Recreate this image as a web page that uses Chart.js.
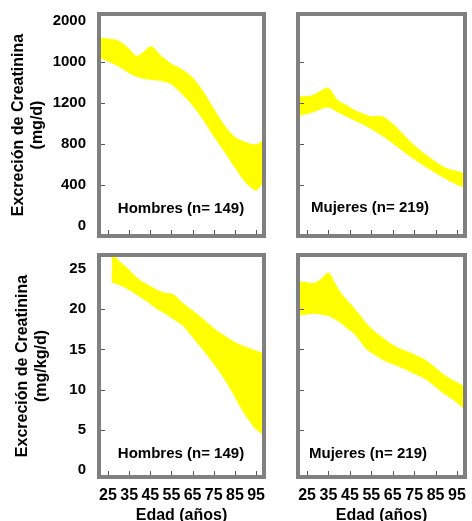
<!DOCTYPE html>
<html><head><meta charset="utf-8">
<script src="https://cdn.jsdelivr.net/npm/chart.js@4.4.1/dist/chart.umd.min.js"></script>
<style>
html,body{margin:0;padding:0;background:#fff;width:472px;height:521px;overflow:hidden;}
#wrap{position:relative;width:472px;height:521px;overflow:hidden;background:#fff;}
canvas{position:absolute;display:block;}
.lbl{position:absolute;font-family:'Liberation Sans',Arial,sans-serif;font-weight:bold;font-size:15px;white-space:nowrap;transform:translate(-50%,-50%);color:#000;line-height:1;}
</style></head><body>
<div id="wrap">
<canvas id="c1" width="270" height="245" style="left:0;top:0"></canvas>
<canvas id="c2" width="202" height="245" style="left:270px;top:0"></canvas>
<canvas id="c3" width="270" height="290" style="left:0;top:245px"></canvas>
<canvas id="c4" width="202" height="290" style="left:270px;top:245px"></canvas>
<div class="lbl" style="left:181px;top:207px">Hombres (n= 149)</div>
<div class="lbl" style="left:370px;top:206px">Mujeres (n= 219)</div>
<div class="lbl" style="left:181px;top:452px">Hombres (n= 149)</div>
<div class="lbl" style="left:368px;top:452px">Mujeres (n= 219)</div>
</div>
<script>
// ---- Data ----
const ageTicks = [25, 35, 45, 55, 65, 75, 85, 95];
const yTicksMgD = [0, 400, 800, 1200, 1600, 2000];
const yTickLabelsMgD = ['0', '400', '800', '1200', '1000', '2000'];
const yTicksMgKgD = [0, 5, 10, 15, 20, 25];
const yTickLabelsMgKgD = ['0', '5', '10', '15', '20', '25'];

const hombresMgDAge   = [21.7, 25, 30, 35, 38.5, 42, 45.5, 50, 55, 60, 65, 70, 75, 80, 85, 90, 95, 98];
const hombresMgDUpper = [1832, 1825, 1805, 1725, 1655, 1700, 1750, 1660, 1580, 1525, 1445, 1310, 1140, 980, 865, 815, 791, 830];
const hombresMgDLower = [1640, 1610, 1560, 1495, 1460, 1440, 1430, 1420, 1385, 1290, 1180, 1040, 880, 730, 575, 430, 350, 420];

const mujeresMgDAge   = [21.7, 25, 28, 31, 35, 39, 43, 47, 51, 55, 60, 65, 70, 75, 80, 85, 90, 95, 98];
const mujeresMgDUpper = [1262, 1262, 1275, 1311, 1344, 1230, 1180, 1130, 1095, 1067, 1067, 995, 890, 785, 700, 625, 560, 532, 514];
const mujeresMgDLower = [1083, 1095, 1116, 1140, 1160, 1116, 1075, 1035, 995, 950, 885, 810, 730, 655, 585, 520, 460, 405, 384];

const hombresMgKgDAge   = [26.7, 29, 34, 40, 44, 48, 52, 56, 60, 64, 68, 72, 76, 80, 84, 88, 92, 95, 98];
const hombresMgKgDUpper = [27.2, 26.3, 25.1, 23.6, 23.0, 22.4, 22.0, 21.8, 20.8, 20.0, 19.2, 18.3, 17.4, 16.7, 16.0, 15.5, 15.1, 14.8, 14.5];
const hombresMgKgDLower = [23.4, 23.2, 22.6, 21.6, 20.9, 20.1, 19.5, 18.8, 18.1, 16.9, 15.6, 14.3, 12.9, 11.4, 9.6, 7.7, 6.1, 5.1, 4.5];

const mujeresMgKgDAge   = [21.7, 25, 28, 31, 35, 38, 41, 44, 47, 50, 53, 57, 60, 64, 68, 72, 76, 80, 84, 88, 92, 95, 98];
const mujeresMgKgDUpper = [23.4, 23.3, 23.2, 23.6, 24.5, 23.2, 21.9, 21.0, 20.1, 19.1, 18.1, 17.1, 16.5, 15.7, 15.1, 14.7, 14.2, 13.7, 12.9, 12.0, 11.3, 10.9, 10.4];
const mujeresMgKgDLower = [19.3, 19.4, 19.5, 19.4, 19.2, 18.8, 18.3, 17.6, 17.0, 16.0, 15.0, 14.3, 13.8, 13.3, 12.9, 12.4, 11.9, 11.4, 10.6, 9.7, 9.0, 8.4, 7.7];

// ---- Rendering ----
const FONT = "'Liberation Sans', Arial, Helvetica, sans-serif";
const YELLOW = '#ffff00';
Chart.defaults.font.family = FONT;

const framePlugin = {
  id: 'frame',
  afterDraw(chart) {
    const {ctx, chartArea: a, scales} = chart;
    ctx.save();
    ctx.strokeStyle = '#555';
    ctx.lineWidth = 1;
    const yt = scales.y.ticks;
    yt.forEach((t, i) => {
      if (i === 0 || i === yt.length - 1) return;
      const y = Math.round(scales.y.getPixelForValue(t.value)) + 0.5;
      ctx.beginPath(); ctx.moveTo(a.left, y); ctx.lineTo(a.left + 4, y); ctx.stroke();
    });
    scales.x.ticks.forEach(t => {
      const x = Math.round(scales.x.getPixelForValue(t.value)) + 0.5;
      ctx.beginPath(); ctx.moveTo(x, a.bottom); ctx.lineTo(x, a.bottom - 4); ctx.stroke();
    });
    ctx.strokeStyle = '#808080';
    ctx.lineWidth = 4;
    ctx.strokeRect(a.left - 2, a.top - 2, a.right - a.left + 4, a.bottom - a.top + 4);
    ctx.restore();
  }
};

function makePanel(id, p) {
  const pts = arr => p.ages.map((a, i) => ({x: a, y: arr[i]}));
  new Chart(document.getElementById(id), {
    type: 'line',
    data: {
      datasets: [
        {data: pts(p.lower), borderColor: YELLOW, borderWidth: 1, pointRadius: 0, fill: false, tension: 0.3},
        {data: pts(p.upper), borderColor: YELLOW, backgroundColor: YELLOW, borderWidth: 1, pointRadius: 0, fill: '-1', tension: 0.3}
      ]
    },
    options: {
      responsive: false,
      animation: false,
      events: [],
      layout: {padding: p.padding},
      plugins: {legend: {display: false}, tooltip: {enabled: false}},
      scales: {
        x: {
          type: 'linear', min: 21.7, max: 97.8,
          display: p.showX,
          afterBuildTicks: s => { s.ticks = ageTicks.map(v => ({value: v})); },
          afterFit: s => { s.height = p.showX ? 50 : 0; s.paddingLeft = 0; s.paddingRight = 0; },
          grid: {display: false, drawTicks: false},
          border: {display: false},
          ticks: {autoSkip: false, maxRotation: 0, padding: 11, color: '#000',
                  font: {family: FONT, size: 16, weight: 'bold'}, callback: v => String(v)},
          title: {display: true, text: 'Edad (años)', color: '#000', padding: 0,
                  font: {family: FONT, size: 16, weight: 'bold'}}
        },
        y: {
          type: 'linear', min: p.yMin, max: p.yMax,
          display: p.showY,
          afterBuildTicks: s => { s.ticks = p.yTicks.map(v => ({value: v})); },
          afterFit: s => { if (p.showY) s.width = 101; s.paddingTop = 0; s.paddingBottom = 0; },
          grid: {display: false, drawTicks: false},
          border: {display: false},
          ticks: {autoSkip: false, padding: 15, color: '#000',
                  font: {family: FONT, size: 15, weight: 'bold'},
                  callback: (v, i) => p.yTickLabels[i]},
          title: {display: true, text: p.yTitle, color: '#000', padding: {top: p.titlePad, bottom: 0},
                  font: {family: FONT, size: 16, weight: 'bold', lineHeight: 1.2}}
        }
      }
    },
    plugins: [framePlugin]
  });
}

makePanel('c1', {
  ages: hombresMgDAge, upper: hombresMgDUpper, lower: hombresMgDLower,
  yMin: -78, yMax: 2049, yTicks: yTicksMgD, yTickLabels: yTickLabelsMgD,
  yTitle: ['Excreción de Creatinina', '(mg/d)'], titlePad: 9,
  showX: false, showY: true, padding: {left: 0, top: 16, right: 8, bottom: 11}
});
makePanel('c2', {
  ages: mujeresMgDAge, upper: mujeresMgDUpper, lower: mujeresMgDLower,
  yMin: -78, yMax: 2049, yTicks: yTicksMgD, yTickLabels: yTickLabelsMgD,
  yTitle: '', titlePad: 0,
  showX: false, showY: false, padding: {left: 30, top: 16, right: 9, bottom: 11}
});
makePanel('c3', {
  ages: hombresMgKgDAge, upper: hombresMgKgDUpper, lower: hombresMgKgDLower,
  yMin: -0.62, yMax: 26.5, yTicks: yTicksMgKgD, yTickLabels: yTickLabelsMgKgD,
  yTitle: ['Excreción de Creatinina', '(mg/kg/d)'], titlePad: 13,
  showX: true, showY: true, padding: {left: 0, top: 12, right: 8, bottom: 10}
});
makePanel('c4', {
  ages: mujeresMgKgDAge, upper: mujeresMgKgDUpper, lower: mujeresMgKgDLower,
  yMin: -0.62, yMax: 26.5, yTicks: yTicksMgKgD, yTickLabels: yTickLabelsMgKgD,
  yTitle: '', titlePad: 0,
  showX: true, showY: false, padding: {left: 30, top: 12, right: 9, bottom: 10}
});
</script>
</body></html>
